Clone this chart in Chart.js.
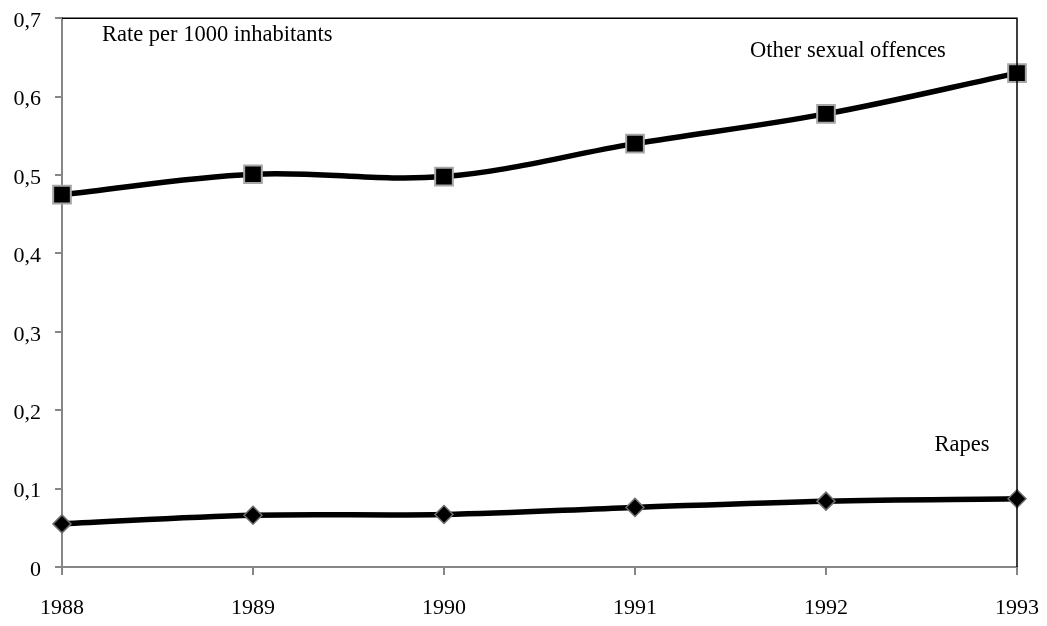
<!DOCTYPE html>
<html>
<head>
<meta charset="utf-8">
<script src="https://cdn.jsdelivr.net/npm/chart.js@4/dist/chart.umd.min.js"></script>
<style>
  html, body { margin: 0; padding: 0; background: #fff; overflow: hidden; }
  #wrap { width: 1059px; height: 635px; position: relative; top: -9px; }
</style>
</head>
<body>
<div id="wrap"><canvas id="c"></canvas></div>
<script>
const years  = ['1988', '1989', '1990', '1991', '1992', '1993'];
const other  = [0.475, 0.501, 0.498, 0.540, 0.578, 0.630];
const rapes  = [0.055, 0.066, 0.067, 0.076, 0.084, 0.087];
const yTicks = [0, 0.1, 0.2, 0.3, 0.4, 0.5, 0.6, 0.7];

const FONT = '"Liberation Serif", "Times New Roman", serif';
const AXIS = '#868686';

// top + right frame and the text labels inside the plot
const annot = {
  id: 'annot',
  afterDraw(chart) {
    const { ctx, chartArea: a } = chart;
    ctx.save();
    ctx.strokeStyle = '#000';
    ctx.lineWidth = 1.5;
    ctx.beginPath();
    ctx.moveTo(a.left, a.top);
    ctx.lineTo(a.right, a.top);
    ctx.lineTo(a.right, a.bottom);
    ctx.stroke();
    ctx.fillStyle = '#000';
    ctx.font = '22.5px ' + FONT;
    ctx.textBaseline = 'middle';
    ctx.textAlign = 'left';
    ctx.fillText('Rate per 1000 inhabitants', a.left + 40, a.top + 17);
    ctx.textAlign = 'center';
    ctx.fillText('Other sexual offences', a.left + 786, a.top + 33);
    ctx.fillText('Rapes', a.left + 900, a.top + 427);
    ctx.restore();
  }
};

new Chart(document.getElementById('c'), {
  type: 'line',
  data: {
    labels: years,
    datasets: [
      { label: 'Other sexual offences', data: other, borderColor: '#000', borderWidth: 5.5, tension: 0.35,
        pointStyle: 'rect', pointRadius: 12.5, pointBackgroundColor: '#000', pointBorderColor: '#a6a6a6', pointBorderWidth: 2 },
      { label: 'Rapes', data: rapes, borderColor: '#000', borderWidth: 5.5, tension: 0.35,
        pointStyle: 'rectRot', pointRadius: 9, pointBackgroundColor: '#000', pointBorderColor: '#6e6e6e', pointBorderWidth: 1.5 },
    ],
  },
  options: {
    responsive: true, maintainAspectRatio: false, animation: false,
    layout: { padding: 0 },
    plugins: { legend: { display: false }, tooltip: { enabled: false } },
    scales: {
      x: {
        offset: false,
        border: { color: AXIS, width: 2 },
        grid: { drawOnChartArea: false, color: AXIS, tickLength: 8, lineWidth: 2 },
        ticks: { color: '#000', font: { family: FONT, size: 22 }, padding: 20, maxRotation: 0 },
        afterFit: s => { s.height = 59; },
      },
      y: {
        min: 0, max: 0.7,
        border: { color: AXIS, width: 2 },
        grid: { drawOnChartArea: false, color: AXIS, tickLength: 7, lineWidth: 2 },
        afterBuildTicks: s => { s.ticks = yTicks.map(v => ({ value: v })); },
        ticks: { color: '#000', font: { family: FONT, size: 22 }, padding: 14, labelOffset: 3,
          callback: v => String(Math.round(v * 10) / 10).replace('.', ',') },
        afterFit: s => { s.width = 62; },
      },
    },
  },
  plugins: [annot],
});
</script>
</body>
</html>
